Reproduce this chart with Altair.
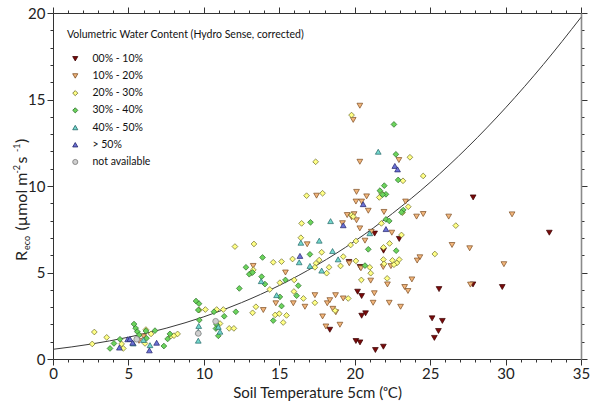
import altair as alt
import pandas as pd

# ---------------- data ----------------
CATEGORIES = ["00% - 10%", "10% - 20%", "20% - 30%", "30% - 40%", "40% - 50%", "> 50%", "not available"]

A_T = [27.85, 32.90, 21.32, 22.95, 21.91, 19.62, 20.35, 18.35, 20.19, 20.46, 20.46, 20.72, 20.08, 20.35,
       21.37, 21.90, 25.13, 25.81, 25.55, 25.28, 25.59, 27.84, 29.78]
A_R = [9.34, 7.30, 7.25, 6.94, 6.26, 5.61, 5.32, 1.69, 3.89, 3.64, 2.50, 2.64, 1.04, 0.96,
       0.52, 0.71, 2.35, 2.20, 1.62, 1.22, 4.04, 4.31, 4.16]

B_T = [20.34, 19.90, 22.93, 20.34, 17.47, 20.12, 20.08, 20.46, 20.79, 20.90, 23.37, 24.10, 24.54, 21.94,
       19.50, 19.79, 19.96, 20.12, 19.19, 20.34, 22.46, 21.10, 26.23, 30.43, 16.85, 20.68, 26.45, 27.62,
       24.32, 24.14, 13.27, 19.64, 15.41, 20.41, 22.40, 21.89, 21.06, 22.17, 23.79, 23.31, 23.53, 27.67,
       29.89, 14.77, 13.94, 15.93, 16.70, 17.36, 18.18, 18.35, 18.73, 19.24, 18.55, 18.75, 17.87, 18.09,
       19.02, 21.30, 22.29, 23.04, 21.22, 6.00, 5.70]
B_R = [14.64, 13.82, 11.50, 11.40, 9.44, 9.66, 9.10, 9.10, 9.40, 8.57, 9.10, 8.23, 8.38, 8.50,
       8.32, 8.20, 8.37, 8.02, 7.85, 7.55, 7.30, 7.35, 8.23, 8.36, 6.63, 6.84, 6.59, 6.40,
       5.88, 5.69, 5.38, 5.53, 5.00, 5.24, 5.37, 5.32, 4.53, 4.31, 4.60, 4.16, 3.93, 4.30,
       5.48, 3.22, 2.83, 3.22, 3.02, 3.69, 3.22, 3.40, 3.69, 3.50, 2.90, 2.70, 2.46, 1.88,
       1.98, 3.80, 3.25, 3.02, 3.25, 1.30, 1.05]

C_T = [17.41, 19.79, 23.66, 23.20, 24.54, 16.81, 17.87, 21.78, 21.63, 23.55, 23.17, 19.79, 19.90, 21.77,
       26.70, 16.48, 23.10, 13.32, 12.06, 16.43, 19.73, 20.08, 17.81, 21.91, 22.31, 25.31, 14.60, 15.15,
       15.88, 13.16, 17.65, 17.43, 17.36, 18.30, 18.14, 19.06, 19.24, 20.08, 15.99, 21.00, 21.90, 21.95,
       22.50, 22.80, 22.95, 22.60, 21.06, 20.44, 22.15, 14.37, 15.04, 15.97, 17.36, 19.57, 13.45, 13.23,
       14.73, 15.00, 15.48, 15.26, 16.60, 18.70, 2.60, 2.74, 3.56, 4.55, 4.66, 6.16, 6.10, 6.50,
       7.82, 8.02, 8.26, 9.70, 10.10, 10.85, 11.07, 11.29, 11.68, 11.99, 13.28]
C_R = [11.40, 14.10, 11.66, 10.30, 10.58, 9.44, 9.58, 9.58, 9.34, 8.80, 8.46, 8.32, 8.23, 7.84,
       7.71, 7.84, 7.17, 6.65, 6.50, 7.01, 6.59, 6.82, 6.17, 6.45, 6.68, 6.07, 5.59, 5.63,
       5.78, 5.00, 5.72, 5.53, 5.30, 5.30, 4.96, 5.38, 5.92, 5.67, 4.57, 5.30, 5.75, 5.50,
       5.70, 5.55, 5.75, 5.45, 4.96, 4.57, 4.66, 4.02, 4.41, 3.90, 3.25, 3.50, 3.02, 2.67,
       2.55, 2.62, 2.52, 2.11, 3.50, 2.80, 0.87, 1.56, 1.25, 0.87, 0.61, 1.70, 0.90, 1.45,
       1.33, 1.35, 1.45, 2.83, 2.86, 2.86, 2.05, 2.86, 1.77, 1.77, 5.15]

D_T = [22.60, 22.73, 22.88, 21.96, 21.67, 22.07, 21.85, 23.22, 23.10, 22.07, 22.29, 17.07, 20.90, 22.75,
       13.89, 17.03, 15.41, 20.68, 13.83, 14.05, 16.26, 16.15, 15.04, 15.15, 14.60, 12.79, 13.01, 13.23,
       12.35, 12.12, 11.35, 10.67, 10.85, 10.80, 10.96, 9.48, 9.68, 9.63, 9.70, 7.35, 7.60, 7.75,
       5.37, 5.48, 5.59, 5.72, 6.16, 6.76, 6.20, 3.78, 4.04, 4.44]
D_R = [13.56, 11.83, 10.35, 10.02, 9.73, 9.52, 9.50, 8.61, 8.48, 8.07, 7.98, 7.90, 6.34, 6.26,
       5.87, 6.05, 4.57, 5.40, 4.76, 4.33, 4.24, 3.66, 3.59, 3.06, 2.22, 5.30, 4.90, 5.00,
       4.08, 2.73, 2.47, 2.73, 1.99, 1.76, 1.34, 3.35, 3.20, 2.83, 2.25, 0.75, 1.16, 1.45,
       2.02, 1.78, 1.58, 1.39, 1.62, 1.64, 1.20, 0.61, 0.90, 1.14]

E_T = [21.56, 18.40, 16.43, 17.65, 18.53, 16.32, 17.03, 17.81, 18.90, 21.00, 14.82, 13.80, 9.66, 9.63,
       9.63, 10.96, 11.07, 5.32, 6.43, 6.00]
E_R = [11.98, 7.97, 6.72, 6.84, 6.24, 5.59, 5.38, 5.11, 5.76, 7.27, 3.69, 4.50, 1.91, 1.58,
       1.06, 1.86, 1.58, 0.90, 0.80, 1.10]

F_T = [22.66, 22.84, 20.56, 19.24, 16.37, 22.07, 4.40, 4.95, 5.10, 5.28, 6.39, 6.87]
F_R = [11.16, 10.96, 8.95, 7.73, 5.96, 7.51, 0.66, 1.14, 1.16, 0.94, 0.50, 0.94]

G_T = [5.55, 9.63, 10.78]
G_R = [1.14, 1.48, 2.18]

# fitted curve, values
CURVE_T = [0, 2.5, 5, 7.5, 10, 12.5, 15, 17.5, 20, 22.5, 25, 27.5, 30, 32.5, 35]
CURVE_R = [0.56, 0.86, 1.26, 1.78, 2.44, 3.26, 4.25, 5.43, 6.81, 8.41, 10.21, 12.25, 14.52, 17.02, 19.75]

X_TICKS = list(range(0, 36))
Y_TICKS = list(range(0, 21))
# y-axis title pieces: (text, kind)  kind: "n" normal, "sub" subscript, "sup" superscript
Y_TITLE_PARTS = [("R", "n"), ("eco", "sub"), ("(µmol m", "n"), ("-2", "sup"), (" s", "n"), ("-1", "sup"), (")", "n")]

# ---------------- styling ----------------
FILLS = ["#7a0a0a", "#f2b67c", "#ffff85", "#6cd45c", "#72d6cc", "#6b72d6", "#cfcfcf"]
STROKES = ["#3a0000", "#7a4a20", "#6a6a2a", "#2a6a2a", "#236666", "#22226a", "#777777"]
SHAPES = ["triangle-down", "triangle-down", "diamond", "diamond", "triangle-up", "triangle-up", "circle"]
FONT = "Lato"

frames = []
for cat, ts, rs in zip(CATEGORIES, [A_T, B_T, C_T, D_T, E_T, F_T, G_T], [A_R, B_R, C_R, D_R, E_R, F_R, G_R]):
    frames.append(pd.DataFrame({"T": ts, "R": rs, "cat": cat}))
df = pd.concat(frames, ignore_index=True)
curve_df = pd.DataFrame({"T": CURVE_T, "R": CURVE_R})

xscale = alt.Scale(domain=[0, 35], nice=False, zero=False)
yscale = alt.Scale(domain=[0, 20], nice=False, zero=False)

tick_cond = {"condition": {"test": "datum.value % 5 === 0", "value": 6}, "value": 3}
label_expr = "datum.value % 5 === 0 ? datum.label : ''"

axis_common = dict(grid=False, tickColor="#333333", tickWidth=1,
                   labelFont=FONT, labelFontSize=15, labelColor="#222222", labelFlush=False,
                   labelOverlap=False, titleFont=FONT, titleFontWeight="normal", titleColor="#222222")

bottom_axis = alt.Axis(orient="bottom", values=X_TICKS, labelExpr=label_expr, tickSize=tick_cond,
                       labelPadding=1, title="Soil Temperature 5cm (ᵒC)", titleFontSize=15,
                       titlePadding=4, domainColor="#333333", domainWidth=1, **axis_common)
left_axis = alt.Axis(orient="left", values=Y_TICKS, labelExpr=label_expr, tickSize=tick_cond,
                     labelPadding=2, title="", domainColor="#333333", domainWidth=1, **axis_common)
top_axis = alt.Axis(orient="top", values=X_TICKS, labels=False, tickSize=tick_cond, title="",
                    domainColor="#333333", domainWidth=1, **axis_common)
right_axis = alt.Axis(orient="right", values=Y_TICKS, labels=False, tickSize=tick_cond, title="",
                      domainColor="#8a8a8a", domainWidth=1.6, **axis_common)

legend = alt.Legend(title="Volumetric Water Content (Hydro Sense, corrected)", orient="none",
                    legendX=14, legendY=17, titleFont=FONT, titleFontSize=10.5, titleFontWeight="normal",
                    titleColor="#111111", titleLimit=400, titlePadding=13, labelFont=FONT, labelFontSize=10.5,
                    labelColor="#111111", labelLimit=200, symbolSize=26, symbolStrokeWidth=0.8,
                    rowPadding=6.2, labelOffset=12, symbolOffset=3, padding=0)

curve = alt.Chart(curve_df).mark_line(color="#3a3a3a", strokeWidth=1, interpolate="monotone").encode(
    x=alt.X("T:Q", scale=xscale, axis=top_axis),
    y=alt.Y("R:Q", scale=yscale, axis=right_axis),
)

points = alt.Chart(df).mark_point(filled=True, size=33, strokeWidth=0.7, opacity=1).encode(
    x=alt.X("T:Q", scale=xscale, axis=bottom_axis),
    y=alt.Y("R:Q", scale=yscale, axis=left_axis),
    shape=alt.Shape("cat:N", scale=alt.Scale(domain=CATEGORIES, range=SHAPES), legend=legend),
    fill=alt.Fill("cat:N", scale=alt.Scale(domain=CATEGORIES, range=FILLS), legend=legend),
    stroke=alt.Stroke("cat:N", scale=alt.Scale(domain=CATEGORIES, range=STROKES), legend=legend),
)

# y-axis title built from rotated text pieces (pixel positions along the left margin)
PIECE_ADVANCE = {"R": 10.5, "eco": 19, "(µmol m": 56.5, "-2": 9.5, " s": 11, "-1": 8.5, ")": 6}
PIECE_X = {"n": -31, "sub": -26.5, "sup": -36}
title_layers = []
y_pos = 248.0
for text, kind in Y_TITLE_PARTS:
    fs = 16 if kind == "n" else 9
    title_layers.append(
        alt.Chart(pd.DataFrame({"t": [text]})).mark_text(
            angle=270, align="left", baseline="middle", font=FONT, fontSize=fs, color="#222222"
        ).encode(text="t:N", x=alt.value(PIECE_X[kind]), y=alt.value(y_pos))
    )
    y_pos -= PIECE_ADVANCE[text] + 0.5

chart = alt.layer(curve, points, *title_layers).resolve_axis(
    x="independent", y="independent"
).properties(
    width=528, height=346,
    padding={"left": 53, "top": 13, "right": 13, "bottom": 42},
    autosize=alt.AutoSizeParams(type="none"),
    background="white",
).configure_view(stroke="transparent")

chart.save("out.html", embed_options={"renderer": "svg", "actions": False})
